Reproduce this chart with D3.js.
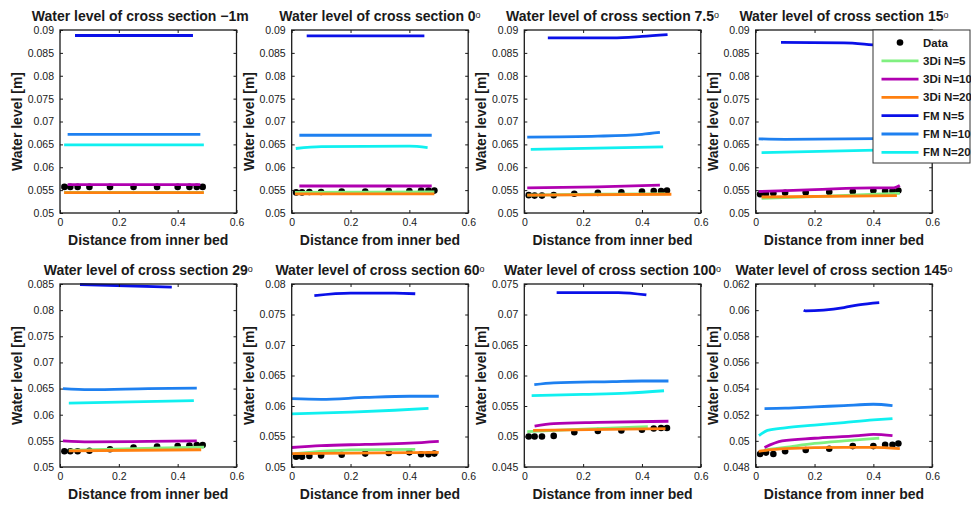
<!DOCTYPE html>
<html>
<head>
<meta charset="utf-8">
<script src="https://cdn.jsdelivr.net/npm/d3@7"></script>
<style>
  body { margin: 0; background: #fff; }
  svg text { font-family: "Liberation Sans", Arial, sans-serif; fill: #1a1a1a; }
</style>
</head>
<body>
<svg id="svg1" width="971" height="505"></svg>
<script>
// ---- data ----
var titles = ["\u22121m", "0", "7.5", "15", "29", "60", "100", "145"];
var hasDegree = [false, true, true, true, true, true, true, true];

var xTicks = [0, 0.2, 0.4, 0.6];
var yDomains = [[0.05, 0.09], [0.05, 0.09], [0.05, 0.09], [0.05, 0.09],
                [0.05, 0.085], [0.05, 0.08], [0.045, 0.075], [0.048, 0.062]];
var yTicks = [
  [0.05, 0.055, 0.06, 0.065, 0.07, 0.075, 0.08, 0.085, 0.09],
  [0.05, 0.055, 0.06, 0.065, 0.07, 0.075, 0.08, 0.085, 0.09],
  [0.05, 0.055, 0.06, 0.065, 0.07, 0.075, 0.08, 0.085, 0.09],
  [0.05, 0.055, 0.06, 0.065, 0.07, 0.075, 0.08, 0.085, 0.09],
  [0.05, 0.055, 0.06, 0.065, 0.07, 0.075, 0.08, 0.085],
  [0.05, 0.055, 0.06, 0.065, 0.07, 0.075, 0.08],
  [0.045, 0.05, 0.055, 0.06, 0.065, 0.07, 0.075],
  [0.048, 0.05, 0.052, 0.054, 0.056, 0.058, 0.06, 0.062]
];

var dataX = [0.015, 0.035, 0.06, 0.1, 0.17, 0.25, 0.33, 0.4, 0.44, 0.465, 0.485];
var dataY = [
  [0.0557, 0.0557, 0.0557, 0.0557, 0.0557, 0.0557, 0.0557, 0.0557, 0.0557, 0.0557, 0.0557],
  [0.0545, 0.0545, 0.0546, 0.0546, 0.0547, 0.0547, 0.0548, 0.0548, 0.0549, 0.0549, 0.0549],
  [0.0539, 0.0538, 0.0538, 0.0539, 0.0542, 0.0544, 0.0545, 0.0547, 0.0548, 0.0548, 0.0549],
  [0.0541, 0.0542, 0.0543, 0.0544, 0.0545, 0.0546, 0.0547, 0.0549, 0.0548, 0.0548, 0.0549],
  [0.0530, 0.0530, 0.0530, 0.0531, 0.0534, 0.0537, 0.0539, 0.0540, 0.0541, 0.0542, 0.0542],
  [0.0517, 0.0517, 0.0518, 0.0519, 0.0520, 0.0522, 0.0523, 0.0524, 0.0521, 0.0521, 0.0522],
  [0.0500, 0.0500, 0.0500, 0.0501, 0.0507, 0.0509, 0.0510, 0.0511, 0.0513, 0.0514, 0.0514],
  [0.0490, 0.0491, 0.0490, 0.0492, 0.0493, 0.0494, 0.0496, 0.0496, 0.0497, 0.0497, 0.0498]
];

// 3Di N=5
var di5X = [[0.014, 0.489], [0.011, 0.485], [0.01, 0.25, 0.48], [0.02, 0.2, 0.49],
            [0.03, 0.25, 0.49], [0.01, 0.2, 0.42], [0.01, 0.2, 0.42], [0.03, 0.1, 0.2, 0.3, 0.42]];
var di5Y = [[0.0545, 0.0545], [0.0545, 0.0546], [0.0539, 0.0541, 0.0542], [0.0532, 0.0536, 0.0543],
            [0.0532, 0.0535, 0.0538], [0.0522, 0.0528, 0.0529], [0.0508, 0.0512, 0.0516],
            [0.0493, 0.0495, 0.0498, 0.0500, 0.0502]];
// 3Di N=10
var di10X = [[0.026, 0.477], [0.026, 0.476], [0.01, 0.25, 0.461], [0.01, 0.2, 0.4, 0.47, 0.49],
             [0.01, 0.1, 0.3, 0.465], [0.0, 0.1, 0.25, 0.4, 0.5], [0.035, 0.1, 0.25, 0.49],
             [0.03, 0.09, 0.2, 0.35, 0.4, 0.465]];
var di10Y = [[0.0562, 0.0562], [0.0559, 0.0559], [0.0555, 0.0557, 0.0561], [0.0547, 0.0551, 0.0555, 0.0555, 0.056],
             [0.055, 0.0548, 0.0549, 0.055], [0.0532, 0.0535, 0.0537, 0.0539, 0.0542], [0.0517, 0.0521, 0.0523, 0.0525],
             [0.0495, 0.05, 0.0502, 0.0504, 0.0505, 0.0504]];
// 3Di N=20
var di20X = [[0.014, 0.489], [0.011, 0.485], [0.01, 0.5], [0.02, 0.48],
             [0.03, 0.48], [0.0, 0.5], [0.03, 0.48], [0.01, 0.1, 0.3, 0.4, 0.49]];
var di20Y = [[0.05445, 0.05445], [0.0542, 0.0542], [0.0539, 0.0541], [0.0535, 0.0538],
             [0.0531, 0.0533], [0.0522, 0.0524], [0.0510, 0.0513], [0.0492, 0.0494, 0.0495, 0.0495, 0.0494]];
// FM N=5
var fm5X = [[0.051, 0.452], [0.051, 0.451], [0.08, 0.3, 0.4, 0.487], [0.086, 0.3, 0.42, 0.46],
            [0.068, 0.38], [0.077, 0.2, 0.35, 0.42], [0.11, 0.32, 0.415], [0.163, 0.17, 0.3, 0.35, 0.42]];
var fm5Y = [[0.0888, 0.0888], [0.0887, 0.0887], [0.0883, 0.0883, 0.0886, 0.0890], [0.0873, 0.0872, 0.0867, 0.0866],
            [0.0849, 0.0844], [0.0781, 0.0785, 0.0785, 0.0784], [0.0736, 0.0736, 0.0732],
            [0.0600, 0.05995, 0.0602, 0.0604, 0.06057]];
// FM N=10
var fm10X = [[0.026, 0.477], [0.026, 0.476], [0.01, 0.25, 0.4, 0.461], [0.01, 0.1, 0.45],
             [0.01, 0.1, 0.3, 0.465], [0.0, 0.1, 0.25, 0.4, 0.5], [0.034, 0.1, 0.3, 0.4, 0.49],
             [0.03, 0.1, 0.2, 0.3, 0.4, 0.465]];
var fm10Y = [[0.0672, 0.0672], [0.0670, 0.0670], [0.0666, 0.0668, 0.0672, 0.0676], [0.0662, 0.0661, 0.0663],
             [0.0650, 0.0648, 0.0650, 0.0651], [0.0612, 0.0611, 0.0614, 0.0616, 0.0616],
             [0.0585, 0.0588, 0.0590, 0.0591, 0.0591], [0.05247, 0.0525, 0.0526, 0.0527, 0.0528, 0.0527]];
// FM N=20
var fm20X = [[0.014, 0.489], [0.014, 0.1, 0.4, 0.462], [0.022, 0.472], [0.02, 0.45],
             [0.03, 0.455], [0.0, 0.2, 0.35, 0.465], [0.025, 0.2, 0.35, 0.475],
             [0.011, 0.04, 0.1, 0.2, 0.3, 0.4, 0.465]];
var fm20Y = [[0.0649, 0.0649], [0.0641, 0.0645, 0.0646, 0.0643], [0.0639, 0.06445], [0.0632, 0.0638],
             [0.0622, 0.0627], [0.0587, 0.0590, 0.0593, 0.0596], [0.0567, 0.0569, 0.0571, 0.0575],
             [0.0504, 0.0508, 0.0510, 0.0512, 0.0514, 0.0516, 0.0517]];

var seriesNames = ["3Di N=5", "3Di N=10", "3Di N=20", "FM N=5", "FM N=10", "FM N=20"];
var seriesColors = ["#80f080", "#b000b0", "#ff8010", "#0a10e8", "#1e80f0", "#10f0f0"];
var seriesX = [di5X, di10X, di20X, fm5X, fm10X, fm20X];
var seriesY = [di5Y, di10Y, di20Y, fm5Y, fm10Y, fm20Y];

// ---- layout ----
var lefts = [60, 291.7, 524.3, 755.7];
var tops = [30, 284];
var plotW = 176.5;
var plotH = 183;
var titleShift = [-8, 0, 0, 0, 0, 0, 0, 0];

var svg = d3.select("#svg1");
var fmt = function(d) { return String(+d.toFixed(4)); };

titles.forEach(function(t, i) {
  var left = lefts[i % 4];
  var top = tops[Math.floor(i / 4)];

  var x = d3.scaleLinear().domain([0, 0.6]).range([0, plotW]);
  var y = d3.scaleLinear().domain(yDomains[i]).range([plotH, 0]);

  var g = svg.append("g").attr("transform", "translate(" + left + "," + top + ")");

  // data markers
  g.selectAll(".dot")
    .data(dataX.map(function(d, k) { return [d, dataY[i][k]]; }))
    .enter()
    .append("circle")
      .attr("cx", function(d) { return x(d[0]); })
      .attr("cy", function(d) { return y(d[1]); })
      .attr("r", 3.3)
      .attr("fill", "#000");

  // model lines
  var line = d3.line()
    .x(function(d) { return x(d[0]); })
    .y(function(d) { return y(d[1]); })
    .curve(d3.curveMonotoneX);

  seriesX.forEach(function(sx, s) {
    var pts = sx[i].map(function(v, k) { return [v, seriesY[s][i][k]]; });
    g.append("path")
      .attr("d", line(pts))
      .attr("fill", "none")
      .attr("stroke", seriesColors[s])
      .attr("stroke-width", 2.8);
  });

  // axes, ticks pointing inward, box all round
  g.append("g").attr("transform", "translate(0," + plotH + ")")
    .call(d3.axisBottom(x).tickValues(xTicks).tickFormat(fmt).tickSizeInner(-3).tickSizeOuter(0).tickPadding(6));
  g.append("g")
    .call(d3.axisLeft(y).tickValues(yTicks[i]).tickFormat(fmt).tickSizeInner(-3).tickSizeOuter(0).tickPadding(6));
  g.append("g").call(d3.axisTop(x).tickValues(xTicks).tickFormat("").tickSizeInner(-3).tickSizeOuter(0));
  g.append("g").attr("transform", "translate(" + plotW + ",0)")
    .call(d3.axisRight(y).tickValues(yTicks[i]).tickFormat("").tickSizeInner(-3).tickSizeOuter(0));

  g.selectAll(".domain").remove();
  g.selectAll(".tick line").attr("stroke", "#1a1a1a");
  g.selectAll(".tick text").style("font-size", "10.5px").attr("fill", "#1a1a1a");

  g.append("rect")
    .attr("width", plotW).attr("height", plotH)
    .attr("fill", "none").attr("stroke", "#1a1a1a").attr("stroke-width", 1.3);

  // title
  var title = g.append("text")
    .attr("x", plotW / 2 + titleShift[i])
    .attr("y", -9)
    .attr("text-anchor", "middle")
    .style("font-size", "14px")
    .style("font-weight", "bold")
    .text("Water level of cross section " + t);
  if (hasDegree[i]) {
    title.append("tspan")
      .attr("dy", -3)
      .style("font-size", "9px")
      .style("font-weight", "normal")
      .text("o");
  }

  g.append("text")
    .attr("x", plotW / 2)
    .attr("y", plotH + 32)
    .attr("text-anchor", "middle")
    .style("font-size", "14px")
    .style("font-weight", "bold")
    .text("Distance from inner bed");

  g.append("text")
    .attr("transform", "translate(-43," + plotH / 2 + ") rotate(-90)")
    .attr("text-anchor", "middle")
    .attr("dy", "0.35em")
    .style("font-size", "14px")
    .style("font-weight", "bold")
    .text("Water level [m]");
});

// ---- legend ----
var legend = svg.append("g").attr("transform", "translate(873,30)");
legend.append("rect")
  .attr("width", 97).attr("height", 133)
  .attr("fill", "#fff").attr("stroke", "#333").attr("stroke-width", 1);

var legendNames = ["Data"].concat(seriesNames);
legendNames.forEach(function(name, k) {
  var ly = 12.5 + k * 18.3;
  if (k == 0) {
    legend.append("circle").attr("cx", 27).attr("cy", ly).attr("r", 3.3).attr("fill", "#000");
  } else {
    legend.append("line")
      .attr("x1", 8.5).attr("x2", 45.5).attr("y1", ly).attr("y2", ly)
      .attr("stroke", seriesColors[k - 1]).attr("stroke-width", 2.8);
  }
  legend.append("text")
    .attr("x", 50)
    .attr("y", ly + 4)
    .style("font-size", "11.5px")
    .style("font-weight", "bold")
    .text(name);
});
</script>
</body>
</html>
